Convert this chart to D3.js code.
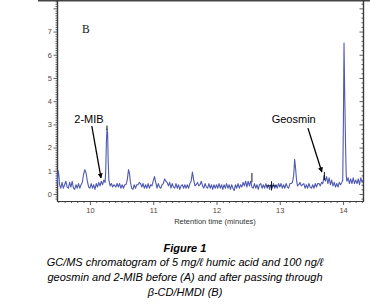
<!DOCTYPE html>
<html>
<head>
<meta charset="utf-8">
<script src="https://cdn.jsdelivr.net/npm/d3@7"></script>
<style>
  html, body { margin:0; padding:0; background:#fff; }
  svg { display:block; }
</style>
</head>
<body>
<svg id="chart" width="370" height="304"></svg>
<script>
/* ---------- data --------------------------------------------- */
// retention time (min) , abundance
const trace = [
  [9.48,0.45],[9.49,0.7],[9.50,1.0],[9.51,0.8],[9.52,0.4],[9.54,0.25],[9.56,0.5],[9.58,0.25],[9.60,0.4],
  [9.62,0.55],[9.64,0.3],[9.66,0.25],[9.68,0.5],[9.70,0.3],[9.72,0.55],[9.74,0.25],[9.76,0.2],[9.78,0.4],
  [9.80,0.25],[9.82,0.45],[9.84,0.25],[9.86,0.4],[9.88,0.5],[9.90,0.85],[9.92,1.05],[9.94,0.9],[9.96,0.55],
  [9.98,0.3],[10.00,0.25],[10.02,0.45],[10.04,0.25],[10.06,0.4],[10.08,0.2],[10.10,0.45],[10.12,0.3],
  [10.14,0.5],[10.16,0.35],[10.18,0.55],[10.20,0.4],[10.22,0.6],[10.24,0.5],[10.25,1.0],[10.26,2.2],
  [10.27,2.8],[10.28,2.6],[10.29,1.3],[10.30,0.6],[10.32,0.35],[10.34,0.45],[10.36,0.3],[10.38,0.4],
  [10.41,0.3],[10.43,0.45],[10.45,0.3],[10.47,0.45],[10.49,0.25],[10.51,0.4],[10.53,0.25],[10.55,0.4],
  [10.57,0.4],[10.59,0.6],[10.61,1.05],[10.625,0.9],[10.64,0.5],[10.66,0.25],[10.68,0.2],[10.70,0.4],
  [10.72,0.25],[10.74,0.4],[10.76,0.4],[10.78,0.5],[10.80,0.45],[10.82,0.3],[10.84,0.45],[10.86,0.25],
  [10.88,0.4],[10.90,0.25],[10.92,0.45],[10.94,0.25],[10.96,0.4],[10.98,0.35],[11.00,0.55],[11.02,0.75],
  [11.04,0.5],[11.06,0.25],[11.08,0.45],[11.10,0.3],[11.12,0.25],[11.14,0.4],[11.16,0.45],[11.18,0.65],
  [11.20,0.55],[11.22,0.5],[11.24,0.35],[11.26,0.5],[11.28,0.25],[11.30,0.45],[11.32,0.3],[11.34,0.25],
  [11.36,0.45],[11.38,0.25],[11.40,0.4],[11.42,0.2],[11.44,0.35],[11.46,0.4],[11.48,0.25],[11.50,0.4],
  [11.52,0.25],[11.54,0.4],[11.56,0.25],[11.58,0.45],[11.60,0.55],[11.62,0.95],[11.64,0.6],[11.66,0.35],
  [11.68,0.4],[11.70,0.5],[11.72,0.35],[11.74,0.4],[11.76,0.55],[11.78,0.35],[11.80,0.25],[11.82,0.45],
  [11.84,0.3],[11.86,0.25],[11.88,0.45],[11.90,0.25],[11.92,0.4],[11.94,0.2],[11.96,0.4],[11.98,0.25],
  [12.00,0.4],[12.02,0.25],[12.04,0.45],[12.06,0.25],[12.08,0.4],[12.10,0.2],[12.12,0.4],[12.14,0.25],
  [12.16,0.45],[12.18,0.25],[12.20,0.4],[12.22,0.2],[12.24,0.4],[12.26,0.25],[12.28,0.15],[12.30,0.4],
  [12.32,0.25],[12.34,0.45],[12.36,0.25],[12.38,0.4],[12.40,0.3],[12.42,0.5],[12.44,0.35],[12.46,0.55],
  [12.48,0.3],[12.50,0.55],[12.52,0.35],[12.54,0.55],[12.56,0.3],[12.58,0.25],[12.60,0.45],[12.62,0.25],
  [12.64,0.4],[12.66,0.2],[12.68,0.4],[12.70,0.45],[12.72,0.25],[12.74,0.4],[12.76,0.25],[12.78,0.45],
  [12.80,0.25],[12.82,0.4],[12.84,0.2],[12.86,0.4],[12.88,0.25],[12.90,0.45],[12.92,0.25],[12.94,0.4],
  [12.96,0.25],[12.98,0.45],[13.00,0.3],[13.02,0.45],[13.04,0.25],[13.06,0.4],[13.08,0.25],[13.10,0.45],
  [13.12,0.3],[13.14,0.25],[13.16,0.45],[13.18,0.45],[13.20,0.5],[13.22,0.8],[13.235,1.5],[13.25,1.1],
  [13.265,0.6],[13.28,0.35],[13.30,0.4],[13.32,0.5],[13.34,0.35],[13.36,0.4],[13.38,0.45],[13.40,0.25],
  [13.42,0.4],[13.44,0.25],[13.46,0.45],[13.48,0.3],[13.50,0.25],[13.52,0.4],[13.54,0.25],[13.56,0.45],
  [13.58,0.3],[13.60,0.45],[13.62,0.45],[13.64,0.35],[13.66,0.5],[13.68,0.45],[13.70,0.8],[13.72,0.55],
  [13.74,0.75],[13.76,0.45],[13.78,0.7],[13.80,0.4],[13.82,0.6],[13.84,0.35],[13.86,0.5],[13.88,0.3],
  [13.90,0.45],[13.92,0.3],[13.94,0.5],[13.96,0.4],[13.98,0.5],[13.995,0.6],[14.005,3.0],[14.015,6.5],
  [14.025,4.5],[14.04,2.0],[14.05,0.8],[14.06,0.55],[14.08,0.7],[14.10,0.45],[14.12,0.65],[14.14,0.45],
  [14.16,0.7],[14.18,0.45],[14.20,0.6],[14.22,0.45],[14.24,0.65],[14.26,0.4],[14.28,0.7],[14.30,0.5],
  [14.315,0.6]
];

// integration marks drawn by the instrument software: [time, low, high, kind]
const marks = [
  [10.27, 2.75, 2.95, "tick"],
  [12.56, 0.5, 0.9, "tick"],
  [12.87, 0.15, 0.55, "cross"],
  [13.705, 0.6, 0.95, "tick"]
];

// arrows: [label, labelTime, labelValue, fromT, fromV, toT, toV]
const arrows = [
  ["2-MIB",   9.985, 3.07, 10.03, 2.93, 10.175, 0.69],
  ["Geosmin", 13.22, 3.07, 13.445, 2.84, 13.665, 0.95]
];

const xTicks = [10, 11, 12, 13, 14];
const yTicks = [0, 1, 2, 3, 4, 5, 6, 7];
const yTicksUnlabelled = [8];

const captionTitle = "Figure 1";
const captionLines = [
  "GC/MS chromatogram of 5 mg/\u2113 humic acid and 100 ng/\u2113",
  "geosmin and 2-MIB before (A) and after passing through",
  "\u03B2-CD/HMDI (B)"
];

/* ---------- frame -------------------------------------------- */
const svg = d3.select("#chart");
const plot = {left:57, right:363, top:0, bottom:201};

const x = d3.scaleLinear().domain([9.48, 14.315]).range([plot.left, plot.right]);
const y = d3.scaleLinear().domain([-0.302, 8.36]).range([plot.bottom, plot.top]);

const axisCol  = "#3a3a3a";
const labelCol = "#5b4636";
const traceCol = "#4f5ab2";

// top border
svg.append("line")
   .attr("x1", 38).attr("x2", 370)
   .attr("y1", 0.75).attr("y2", 0.75)
   .attr("stroke", "#444").attr("stroke-width", 1.5);

/* ---------- axes --------------------------------------------- */
const minorX = d3.range(95, 144).map(d => d/10).filter(d => d % 1 !== 0);
const minorY = d3.range(-2, 84).map(d => d/10).filter(d => Math.abs(d % 1) > 1e-9);

const styleAxis = g => {
  g.select(".domain").attr("stroke", axisCol).attr("stroke-width", 1.2);
  g.selectAll(".tick line").attr("stroke", axisCol).attr("stroke-width", 0.8);
  g.selectAll(".tick text").attr("fill", labelCol)
    .attr("font-family", "Liberation Sans, Arial, sans-serif").attr("font-size", 7.5);
};

// bottom
svg.append("g").attr("transform", `translate(0,${plot.bottom})`)
   .call(d3.axisBottom(x).tickValues(minorX).tickSize(2).tickFormat("").tickSizeOuter(0))
   .call(styleAxis);
svg.append("g").attr("transform", `translate(0,${plot.bottom})`)
   .call(d3.axisBottom(x).tickValues(xTicks).tickSize(4).tickPadding(3).tickFormat(d3.format("d")).tickSizeOuter(0))
   .call(styleAxis);

// left
svg.append("g").attr("transform", `translate(${plot.left},0)`)
   .call(d3.axisLeft(y).tickValues(minorY).tickSize(1.5).tickFormat("").tickSizeOuter(0))
   .call(styleAxis);
svg.append("g").attr("transform", `translate(${plot.left},0)`)
   .call(d3.axisLeft(y).tickValues(yTicks.concat(yTicksUnlabelled)).tickSize(3.5).tickPadding(1.5)
         .tickFormat(d => yTicks.includes(d) ? d : "").tickSizeOuter(0))
   .call(styleAxis);

// right (ticks point inward)
svg.append("g").attr("transform", `translate(${plot.right},0)`)
   .call(d3.axisLeft(y).tickValues(minorY.filter(d => Math.round(d*10) % 2 === 0)).tickSize(1.5).tickFormat("").tickSizeOuter(0))
   .call(styleAxis);
svg.append("g").attr("transform", `translate(${plot.right},0)`)
   .call(d3.axisLeft(y).tickValues(yTicks.concat(yTicksUnlabelled)).tickSize(3.5).tickFormat("").tickSizeOuter(0))
   .call(styleAxis);

svg.append("text")
   .attr("x", 215).attr("y", 224)
   .attr("text-anchor", "middle")
   .attr("font-family", "Liberation Sans, Arial, sans-serif")
   .attr("font-size", 7.5).attr("fill", "#333")
   .text("Retention time (minutes)");

/* ---------- trace -------------------------------------------- */
const line = d3.line().x(d => x(d[0])).y(d => y(d[1]));
svg.append("path")
   .datum(trace)
   .attr("d", line)
   .attr("fill", "none")
   .attr("stroke", traceCol)
   .attr("stroke-width", 1.1)
   .attr("stroke-linejoin", "round");

// integration marks
const mg = svg.append("g").attr("stroke", "#111").attr("stroke-width", 1);
marks.forEach(([t, lo, hi, kind]) => {
  mg.append("line").attr("x1", x(t)).attr("x2", x(t)).attr("y1", y(lo)).attr("y2", y(hi));
  if (kind === "cross") {
    const ym = y((lo + hi) / 2);
    mg.append("line").attr("x1", x(t) - 5).attr("x2", x(t) + 5).attr("y1", ym).attr("y2", ym);
  }
});

/* ---------- annotations -------------------------------------- */
svg.append("defs").append("marker")
   .attr("id", "arrowhead")
   .attr("viewBox", "0 0 10 10")
   .attr("refX", 9).attr("refY", 5)
   .attr("markerWidth", 5).attr("markerHeight", 6)
   .attr("markerUnits", "userSpaceOnUse")
   .attr("orient", "auto")
  .append("path")
   .attr("d", "M0,0 L10,5 L0,10 Z")
   .attr("fill", "#000");

arrows.forEach(([label, lt, lv, ft, fv, tt, tv]) => {
  svg.append("text")
     .attr("x", x(lt)).attr("y", y(lv))
     .attr("text-anchor", "middle")
     .attr("font-family", "Liberation Sans, Arial, sans-serif")
     .attr("font-size", 11).attr("fill", "#000")
     .text(label);
  svg.append("line")
     .attr("x1", x(ft)).attr("y1", y(fv))
     .attr("x2", x(tt)).attr("y2", y(tv))
     .attr("stroke", "#000").attr("stroke-width", 1.3)
     .attr("marker-end", "url(#arrowhead)");
});

svg.append("text")
   .attr("x", 82).attr("y", 33)
   .attr("font-family", "Liberation Serif, Times New Roman, serif")
   .attr("font-size", 11.5).attr("fill", "#111")
   .text("B");

/* ---------- caption ------------------------------------------ */
svg.append("text")
   .attr("x", 185).attr("y", 252)
   .attr("text-anchor", "middle")
   .attr("font-family", "Liberation Sans, Arial, sans-serif")
   .attr("font-size", 11).attr("font-weight", "bold").attr("font-style", "italic")
   .text(captionTitle);

svg.append("g").selectAll("text")
   .data(captionLines)
   .join("text")
   .attr("x", 185).attr("y", (d, i) => 266 + i * 15)
   .attr("text-anchor", "middle")
   .attr("font-family", "Liberation Sans, Arial, sans-serif")
   .attr("font-size", 11).attr("font-style", "italic")
   .text(d => d);
</script>
</body>
</html>
